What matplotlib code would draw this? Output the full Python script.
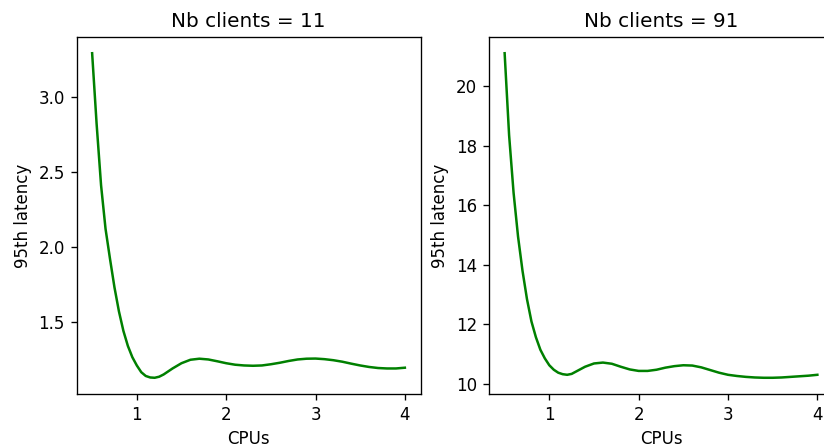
import matplotlib
matplotlib.use('Agg')
import matplotlib.pyplot as plt

# Valeurs
cpus_11 = [0.5, 0.55, 0.6, 0.65, 0.7, 0.75, 0.8, 0.85, 0.9, 0.95, 1.0, 1.05, 1.1, 1.15,
           1.2, 1.25, 1.3, 1.4, 1.5, 1.6, 1.7, 1.8, 1.9, 2.0, 2.1, 2.2, 2.3, 2.4, 2.5,
           2.6, 2.7, 2.8, 2.9, 3.0, 3.1, 3.2, 3.3, 3.4, 3.5, 3.6, 3.7, 3.8, 3.9, 4.0]
lat_11 = [3.29, 2.82, 2.41, 2.12, 1.92, 1.73, 1.57, 1.44, 1.34, 1.265, 1.21, 1.165, 1.14,
          1.13, 1.128, 1.135, 1.15, 1.19, 1.225, 1.248, 1.255, 1.25, 1.238, 1.225, 1.215,
          1.21, 1.208, 1.21, 1.218, 1.228, 1.24, 1.25, 1.255, 1.256, 1.252, 1.245, 1.235,
          1.222, 1.21, 1.2, 1.193, 1.19, 1.19, 1.195]

cpus_91 = cpus_11
lat_91 = [21.1, 18.35, 16.42, 14.95, 13.8, 12.85, 12.1, 11.57, 11.15, 10.86, 10.63, 10.48,
          10.38, 10.33, 10.31, 10.34, 10.42, 10.58, 10.69, 10.72, 10.68, 10.58, 10.49,
          10.44, 10.44, 10.48, 10.55, 10.6, 10.63, 10.62, 10.56, 10.47, 10.38, 10.31,
          10.27, 10.24, 10.22, 10.21, 10.21, 10.22, 10.24, 10.26, 10.28, 10.31]

panels = [(11, cpus_11, lat_11), (91, cpus_91, lat_91)]

# rendu à 120 dpi : polices et traits un peu plus gros
fig = plt.figure(figsize=(824 / 120, 447 / 120), dpi=120)
positions = [[76.5 / 824, 53 / 447, 344 / 824, 357 / 447],
             [489 / 824, 53 / 447, 344 / 824, 357 / 447]]

for pos, (nb, x, y) in zip(positions, panels):
    ax = fig.add_axes(pos)
    ax.plot(x, y, color='g')
    ax.set_title(f"Nb clients = {nb}")
    ax.set_xlabel("CPUs")
    ax.set_ylabel("95th latency")
    ax.set_xticks([1, 2, 3, 4])

fig.savefig("out.png", dpi=120)
